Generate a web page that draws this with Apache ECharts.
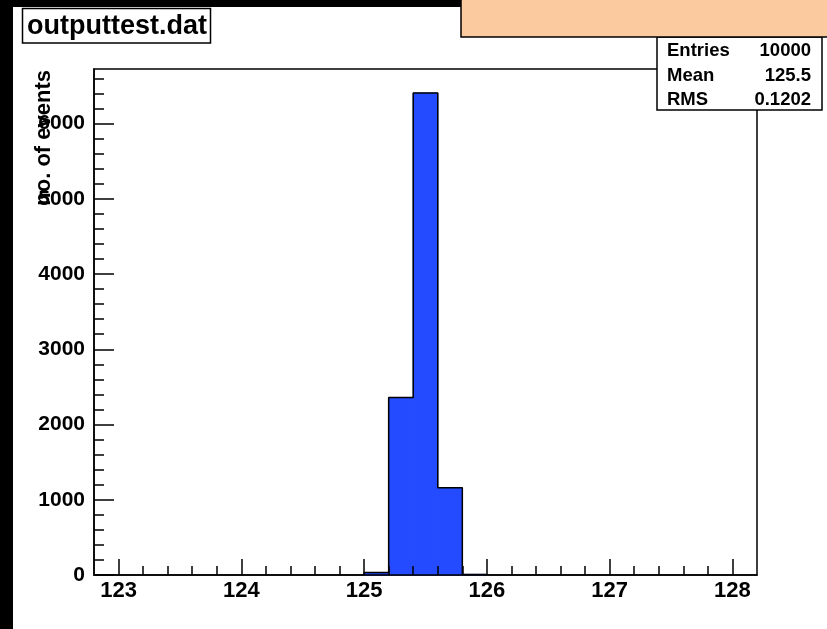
<!DOCTYPE html>
<html>
<head>
<meta charset="utf-8">
<title>outputtest.dat</title>
<script src="https://cdn.jsdelivr.net/npm/echarts@6/dist/echarts.min.js"></script>
<style>
  html, body { margin: 0; padding: 0; background: #fff; }
  #chart { width: 827px; height: 629px; }
</style>
</head>
<body>
<div id="chart"></div>
<script>
// Histogram bins (lower edge, upper edge, entries)
const binLo = [125.0, 125.2, 125.4, 125.6, 125.8];
const binHi = [125.2, 125.4, 125.6, 125.8, 126.0];
const counts = [32, 2358, 6405, 1161, 8];

// Axis range and tick labels
const xRange = [122.8, 128.2];
const yRange = [0, 6725];
const xMajor = [123, 124, 125, 126, 127, 128];
const xMinor = [123.2, 123.4, 123.6, 123.8, 124.2, 124.4, 124.6, 124.8,
                125.2, 125.4, 125.6, 125.8, 126.2, 126.4, 126.6, 126.8,
                127.2, 127.4, 127.6, 127.8];
const yMajor = [0, 1000, 2000, 3000, 4000, 5000, 6000];
const yMinor = [200, 400, 600, 800, 1200, 1400, 1600, 1800, 2200, 2400, 2600, 2800,
                3200, 3400, 3600, 3800, 4200, 4400, 4600, 4800, 5200, 5400, 5600, 5800,
                6200, 6400, 6600];

// Statistics box rows
const statNames = ['Entries', 'Mean', 'RMS'];
const statValues = ['10000', '125.5', '0.1202'];

const FONT = '"Liberation Sans", Helvetica, Arial, sans-serif';
const BAR_BLUE = '#244bff';

const binData = binLo.map((lo, i) => [lo, binHi[i], counts[i]]);

// Step outline of the histogram
const outline = [];
binLo.forEach((lo, i) => {
  const prev = i === 0 ? 0 : counts[i - 1];
  outline.push([lo, prev]);
  outline.push([lo, counts[i]]);
  outline.push([binHi[i], counts[i]]);
});
outline.push([binHi[binHi.length - 1], 0]);

const chart = echarts.init(document.getElementById('chart'), null, { renderer: 'canvas' });

const tickStyle = { color: '#000', width: 1.5 };
const labelBase = { color: '#000', fontFamily: FONT, fontWeight: 'bold' };

const statRowTop = [41, 66, 90];
const statGraphics = [];
statNames.forEach((name, i) => {
  statGraphics.push({
    type: 'text', x: 667, y: statRowTop[i], z: 101,
    style: { text: name, font: 'bold 18.5px ' + FONT, fill: '#000', align: 'left', verticalAlign: 'top' }
  });
  statGraphics.push({
    type: 'text', x: 811, y: statRowTop[i], z: 101,
    style: { text: statValues[i], font: 'bold 18.5px ' + FONT, fill: '#000', align: 'right', verticalAlign: 'top' }
  });
});

chart.setOption({
  animation: false,
  backgroundColor: '#fff',
  grid: {
    left: 94, right: 70, top: 69, bottom: 54,
    show: true, borderColor: '#000', borderWidth: 1.5, backgroundColor: 'transparent'
  },
  xAxis: [
    {
      type: 'value', min: xRange[0], max: xRange[1], position: 'bottom', z: 10,
      axisLine: { show: true, onZero: false, lineStyle: tickStyle },
      axisTick: { show: true, inside: true, length: 16, lineStyle: tickStyle, customValues: xMajor },
      axisLabel: Object.assign({ show: true, margin: 5, fontSize: 22, customValues: xMajor, formatter: v => String(v) }, labelBase),
      splitLine: { show: false }
    },
    {
      type: 'value', min: xRange[0], max: xRange[1], position: 'bottom', offset: 0, z: 10,
      axisLine: { show: false, onZero: false },
      axisTick: { show: true, inside: true, length: 9, lineStyle: tickStyle, customValues: xMinor },
      axisLabel: { show: false },
      splitLine: { show: false }
    }
  ],
  yAxis: [
    {
      type: 'value', min: yRange[0], max: yRange[1], position: 'left', z: 10,
      axisLine: { show: true, onZero: false, lineStyle: tickStyle },
      axisTick: { show: true, inside: true, length: 20, lineStyle: tickStyle, customValues: yMajor },
      axisLabel: Object.assign({ show: true, margin: 9, fontSize: 21, customValues: yMajor, formatter: v => String(v) }, labelBase),
      splitLine: { show: false }
    },
    {
      type: 'value', min: yRange[0], max: yRange[1], position: 'left', offset: 0, z: 10,
      axisLine: { show: false, onZero: false },
      axisTick: { show: true, inside: true, length: 10, lineStyle: tickStyle, customValues: yMinor },
      axisLabel: { show: false },
      splitLine: { show: false }
    }
  ],
  series: [
    {
      type: 'custom',
      xAxisIndex: 0, yAxisIndex: 0,
      data: binData,
      encode: { x: [0, 1], y: 2 },
      z: 2,
      renderItem: (params, api) => {
        const p0 = api.coord([api.value(0), api.value(2)]);
        const p1 = api.coord([api.value(1), 0]);
        return {
          type: 'rect',
          shape: { x: p0[0], y: p0[1], width: p1[0] - p0[0], height: p1[1] - p0[1] },
          style: { fill: BAR_BLUE, stroke: BAR_BLUE, lineWidth: 1 }
        };
      }
    },
    {
      type: 'line',
      xAxisIndex: 0, yAxisIndex: 0,
      data: outline,
      symbol: 'none',
      z: 3,
      lineStyle: { color: '#000', width: 1.5 }
    }
  ],
  graphic: [
    // dark canvas edges
    { type: 'rect', shape: { x: 0, y: 0, width: 13, height: 629 }, style: { fill: '#000' }, z: 100 },
    { type: 'rect', shape: { x: 0, y: 0, width: 470, height: 7 }, style: { fill: '#000' }, z: 100 },
    // header pad
    { type: 'rect', shape: { x: 461, y: -3, width: 380, height: 40 },
      style: { fill: '#fbca9f', stroke: '#000', lineWidth: 1.5 }, z: 101 },
    // title box
    { type: 'rect', shape: { x: 22.5, y: 8.5, width: 188, height: 34.5 },
      style: { fill: '#fff', stroke: '#000', lineWidth: 1.5 }, z: 101 },
    { type: 'text', x: 27, y: 13, z: 102,
      style: { text: 'outputtest.dat', font: 'bold 27px ' + FONT, fill: '#000', align: 'left', verticalAlign: 'top' } },
    // statistics box
    { type: 'rect', shape: { x: 657, y: 37, width: 165, height: 73 },
      style: { fill: '#fff', stroke: '#000', lineWidth: 1.5 }, z: 100 },
    ...statGraphics,
    // y axis title
    { type: 'text', x: 44, y: 70, rotation: Math.PI / 2, z: 20,
      style: { text: 'no. of events', font: 'bold 22px ' + FONT, fill: '#000', align: 'right', verticalAlign: 'middle' } }
  ]
});
</script>
</body>
</html>
